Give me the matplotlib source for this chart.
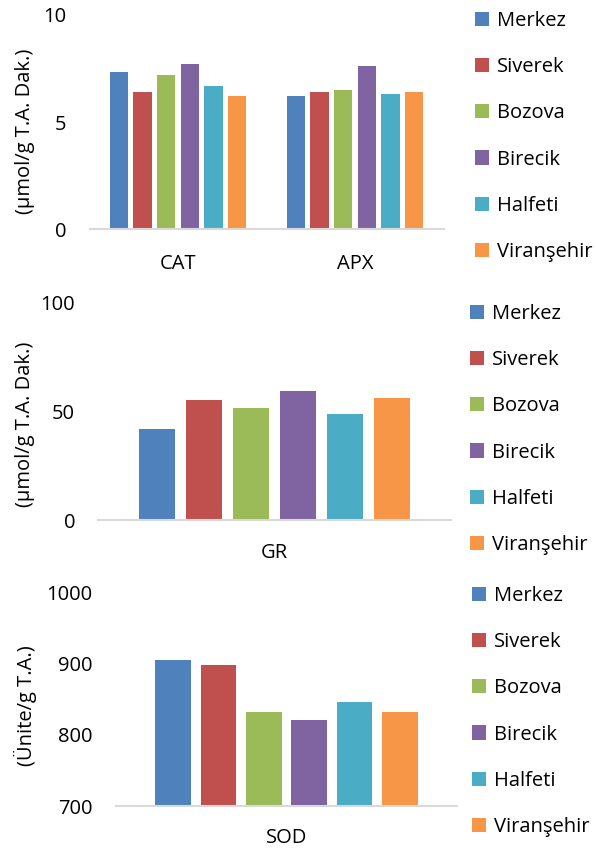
import matplotlib
matplotlib.use("Agg")
from matplotlib import pyplot as plt
import numpy as np

plt.rcParams['font.family'] = ['Open Sans', 'DejaVu Sans']

regions = ['Merkez', 'Siverek', 'Bozova', 'Birecik', 'Halfeti', 'Viranşehir']
colors = ['#4F81BD', '#C0504D', '#9BBB59', '#8064A2', '#4BACC6', '#F79646']

# top panel: CAT and APX
enz_top = ['CAT', 'APX']
cat_vals = [7.32, 6.40, 7.21, 7.72, 6.71, 6.20]
apx_vals = [6.20, 6.40, 6.51, 7.62, 6.31, 6.40]

# middle panel: GR
enz_mid = ['GR']
gr_vals = [41.9, 55.3, 51.6, 59.4, 48.8, 56.2]

# bottom panel: SOD
enz_bot = ['SOD']
sod_vals = [905, 898, 832, 821, 846, 832]

W, H = 596, 848
FS = 14.5
fig = plt.figure(figsize=(W / 100, H / 100), dpi=100)


def px_axes(x0, x1, ytop, ybot):
    return fig.add_axes([x0 / W, 1 - ybot / H, (x1 - x0) / W, (ybot - ytop) / H])


def draw_panel(ax, cats, series, ylim, yticks, ylabel, label_y, leg_x, leg_y, pad):
    n = len(regions)
    step = 0.133
    width = 0.104
    x = np.arange(len(cats))
    for i in range(n):
        vals = [s[i] for s in series]
        ax.bar(x + (i - (n - 1) / 2) * step, np.array(vals) - ylim[0], width,
               bottom=ylim[0], color=colors[i], label=regions[i])
    ax.set_xlim(-0.5, len(cats) - 0.5)
    ax.set_ylim(*ylim)
    ax.set_yticks(yticks)
    ax.set_xticks(x)
    ax.set_xticklabels(cats)
    for s in ['top', 'right', 'left']:
        ax.spines[s].set_visible(False)
    ax.spines['bottom'].set_color('#D9D9D9')
    ax.spines['bottom'].set_linewidth(1.5)
    ax.tick_params(length=0, labelsize=FS, colors='#000000')
    ax.tick_params(axis='x', pad=pad)
    ax.tick_params(axis='y', pad=16.5)
    fig.text(25 / W, 1 - label_y / H, ylabel, rotation=90, fontsize=FS,
             ha='center', va='center')
    ax.legend(loc='upper left', bbox_to_anchor=(leg_x / W, 1 - leg_y / H),
              bbox_transform=fig.transFigure, frameon=False, fontsize=FS,
              handlelength=0.7, handleheight=0.7, handletextpad=0.4,
              labelspacing=1.3, borderaxespad=0, borderpad=0)


ax1 = px_axes(89.5, 443.5, 15, 229.3)
draw_panel(ax1, enz_top, [cat_vals, apx_vals], (0, 10), [0, 5, 10],
           '(µmol/g T.A. Dak.)', 131, 475, 11, 17.5)

ax2 = px_axes(98, 451, 302.5, 520.3)
draw_panel(ax2, enz_mid, [gr_vals], (0, 100), [0, 50, 100],
           '(µmol/g T.A. Dak.)', 424, 470, 304, 16)

ax3 = px_axes(115.7, 457.3, 592.7, 806)
draw_panel(ax3, enz_bot, [sod_vals], (700, 1000), [700, 800, 900, 1000],
           '(Ünite/g T.A.)', 706, 471.5, 586, 15.5)

fig.savefig('out.png', dpi=100)
